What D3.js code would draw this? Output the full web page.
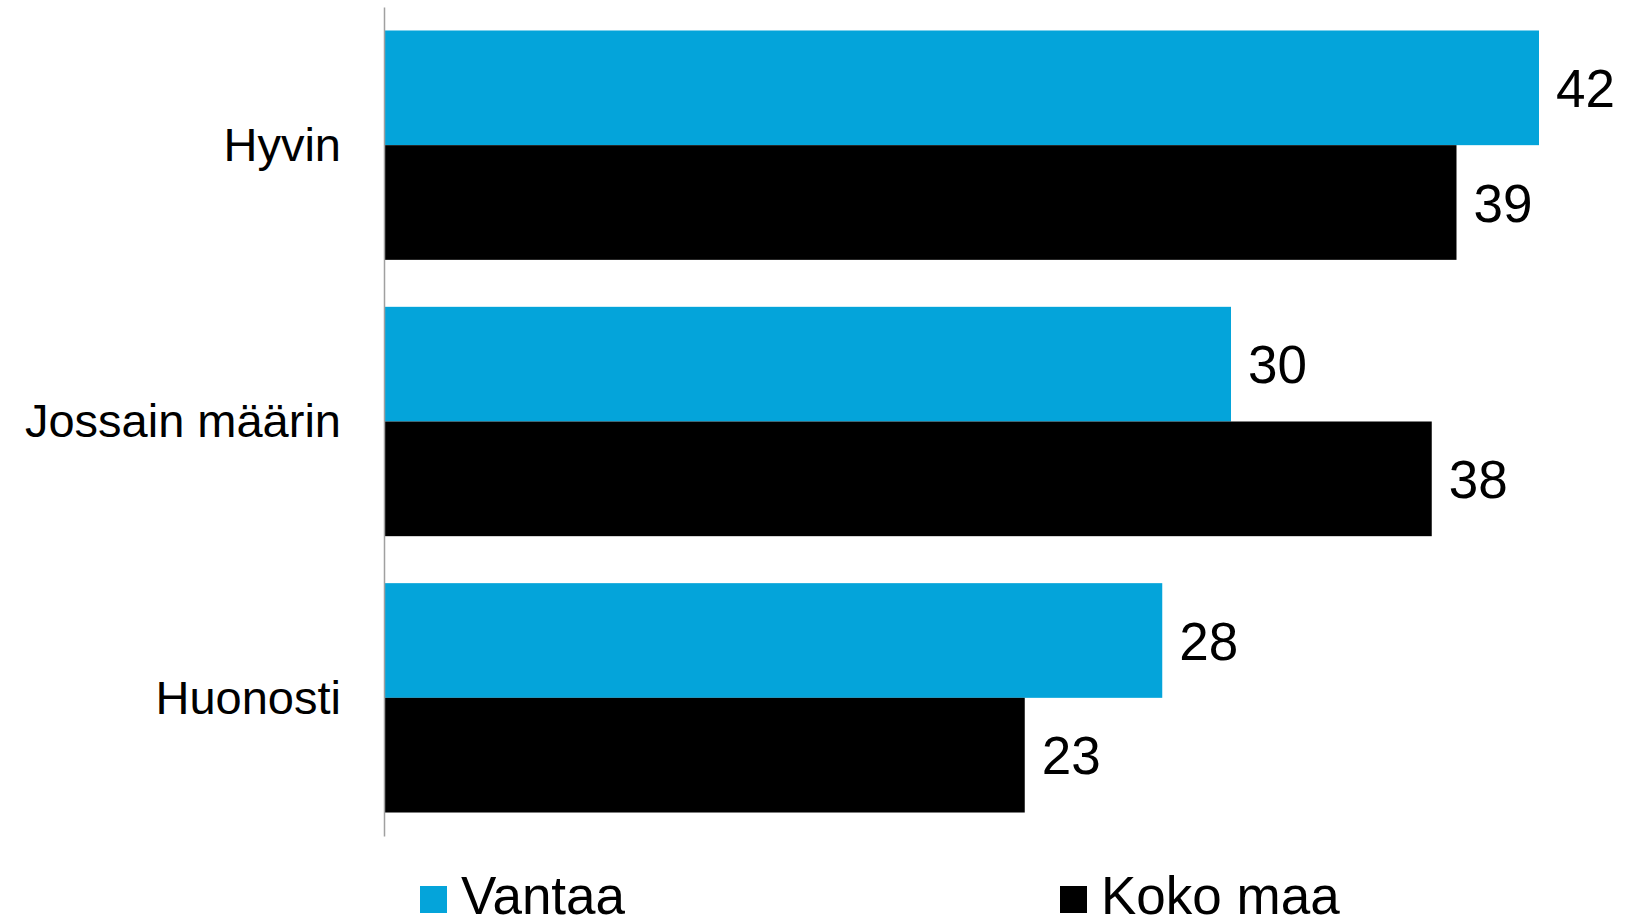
<!DOCTYPE html>
<html>
<head>
<meta charset="utf-8">
<script src="https://cdn.jsdelivr.net/npm/d3@7"></script>
<style>
  body { margin: 0; background: #fff; }
  text { font-family: Arial, "Liberation Sans", sans-serif; fill: #000; }
</style>
</head>
<body>
<div id="chart"></div>
<script>
// data
var categories = ["Hyvin", "Jossain määrin", "Huonosti"];
var seriesNames = ["Vantaa", "Koko maa"];
var vantaa = [42, 30.8, 28.3];
var kokoMaa = [39, 38.1, 23.3];
// labels as printed on the chart (rounded)
var vantaaLabels = ["42", "30", "28"];
var kokoMaaLabels = ["39", "38", "23"];
var colors = ["#04a4da", "#000000"];

var width = 1627, height = 920;

var svg = d3.select("#chart").append("svg")
    .attr("width", width)
    .attr("height", height);

// scales
var x = d3.scaleLinear()
    .domain([0, 42])
    .range([384, 1539]);

var y = d3.scaleBand()
    .domain(categories)
    .range([7, 836])
    .paddingInner(0.17)
    .paddingOuter(0.085);

var ySub = d3.scaleBand()
    .domain(seriesNames)
    .range([0, y.bandwidth()]);

var rows = categories.map(function (c, i) {
    return { cat: c, values: [vantaa[i], kokoMaa[i]], labels: [vantaaLabels[i], kokoMaaLabels[i]] };
});

// bars
var groups = svg.selectAll("g.group")
    .data(rows)
    .enter().append("g")
    .attr("class", "group")
    .attr("transform", function (d) { return "translate(0," + y(d.cat) + ")"; });

groups.selectAll("rect")
    .data(function (d) { return d.values.map(function (v, j) { return { s: seriesNames[j], v: v, j: j }; }); })
    .enter().append("rect")
    .attr("x", x(0))
    .attr("y", function (d) { return ySub(d.s); })
    .attr("width", function (d) { return x(d.v) - x(0); })
    .attr("height", ySub.bandwidth())
    .attr("fill", function (d) { return colors[d.j]; });

// value labels
groups.selectAll("text.val")
    .data(function (d) { return d.values.map(function (v, j) { return { s: seriesNames[j], v: v, t: d.labels[j] }; }); })
    .enter().append("text")
    .attr("class", "val")
    .attr("x", function (d) { return x(d.v) + 17; })
    .attr("y", function (d) { return ySub(d.s) + ySub.bandwidth() / 2; })
    .attr("dy", "0.36em")
    .style("font-size", "53px")
    .text(function (d) { return d.t; });

// category axis
var axis = svg.append("g")
    .attr("transform", "translate(" + x(0) + ",0)")
    .call(d3.axisLeft(y).tickSize(0).tickPadding(43));

axis.select(".domain")
    .attr("stroke", "#a0a0a0")
    .attr("stroke-width", 1.5);

axis.selectAll(".tick text")
    .attr("dy", "0.34em")
    .style("font-size", "47px")
    .style("font-family", "Arial, 'Liberation Sans', sans-serif")
    .attr("fill", "#000");

// legend
var legendX = [420, 1060];
var legend = svg.selectAll("g.legend")
    .data(seriesNames)
    .enter().append("g")
    .attr("class", "legend")
    .attr("transform", function (d, i) { return "translate(" + legendX[i] + ",886)"; });

legend.append("rect")
    .attr("width", 27)
    .attr("height", 27)
    .attr("fill", function (d, i) { return colors[i]; });

legend.append("text")
    .attr("x", 41)
    .attr("y", 28)
    .style("font-size", "53px")
    .text(function (d) { return d; });
</script>
</body>
</html>
